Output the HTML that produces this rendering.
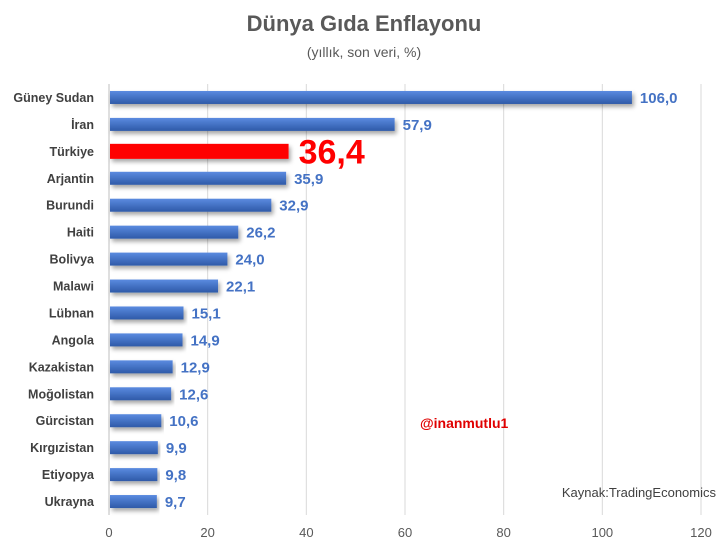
<!DOCTYPE html>
<html><head><meta charset="utf-8">
<style>
body{margin:0;background:#fff;}
svg{display:block;font-family:"Liberation Sans",sans-serif;}
</style></head><body>
<svg id="chart" width="727" height="556" viewBox="0 0 727 556">
<defs>
<linearGradient id="bg" x1="0" y1="0" x2="0" y2="1">
<stop offset="0" stop-color="#5b8be0"/><stop offset="0.5" stop-color="#4472c4"/><stop offset="1" stop-color="#2f5aa8"/>
</linearGradient>
<filter id="sh" x="-5%" y="-50%" width="110%" height="220%"><feDropShadow dx="2" dy="3" stdDeviation="2" flood-color="#000" flood-opacity="0.35"/></filter>
</defs>
<text x="364" y="31" text-anchor="middle" font-size="22" font-weight="bold" fill="#595959">Dünya Gıda Enflayonu</text>
<text x="364" y="57" text-anchor="middle" font-size="14" fill="#595959">(yıllık, son veri, %)</text>
<g id="grid"></g>
<g id="bars"></g>
<g id="labels"></g>
<text x="420" y="428" font-size="14" font-weight="bold" fill="#e00000">@inanmutlu1</text>
<text x="716" y="497" text-anchor="end" font-size="13" fill="#404040">Kaynak:TradingEconomics</text>
</svg>
<script>
const categories=["Güney Sudan","İran","Türkiye","Arjantin","Burundi","Haiti","Bolivya","Malawi","Lübnan","Angola","Kazakistan","Moğolistan","Gürcistan","Kırgızistan","Etiyopya","Ukrayna"];
const values=[106.0,57.9,36.4,35.9,32.9,26.2,24.0,22.1,15.1,14.9,12.9,12.6,10.6,9.9,9.8,9.7];
const ticks=[0,20,40,60,80,100,120];
const NS="http://www.w3.org/2000/svg";
const x0=109,x1=701,xmax=120,yTop=84,yBot=515;
const xs=v=>x0+v/xmax*(x1-x0);
const rowH=(yBot-yTop)/categories.length;
const yc=i=>yTop+rowH*(i+0.5);
function mk(t,a,p){const e=document.createElementNS(NS,t);for(const k in a)e.setAttribute(k,a[k]);p.appendChild(e);return e;}
const grid=document.getElementById('grid'),bars=document.getElementById('bars'),labels=document.getElementById('labels');
ticks.forEach(t=>{
 const l=mk('line',{x1:xs(t),x2:xs(t),y1:yTop,y2:yBot,stroke:t===0?'#bfbfbf':'#d9d9d9','stroke-width':1},grid);
 
 
 const tx=mk('text',{x:xs(t),y:537,'text-anchor':'middle','font-size':13,fill:'#595959'},grid);
 tx.textContent=t;
 
 
});
categories.forEach((c,i)=>{
 const y=yc(i),tr=c==="Türkiye";
 const bh=tr?15:13;
 const r=mk('rect',{x:x0+1,y:y-bh/2,width:xs(values[i])-x0-1,height:bh,fill:tr?'#ff0000':'url(#bg)',filter:'url(#sh)'},bars);
 
 
 const cl=mk('text',{x:94,y:y+4.5,'text-anchor':'end','font-size':12.5,'font-weight':'bold',fill:'#404040'},labels);
 cl.textContent=c;
 
 
 const vl=mk('text',{x:xs(values[i])+(tr?10:8),y:y+(tr?12:5.5),'font-size':tr?34:15,'font-weight':'bold',fill:tr?'#ff0000':'#4472c4'},labels);
 vl.textContent=values[i].toFixed(1).replace('.',',');
 
 
});
</script>
</body></html>
